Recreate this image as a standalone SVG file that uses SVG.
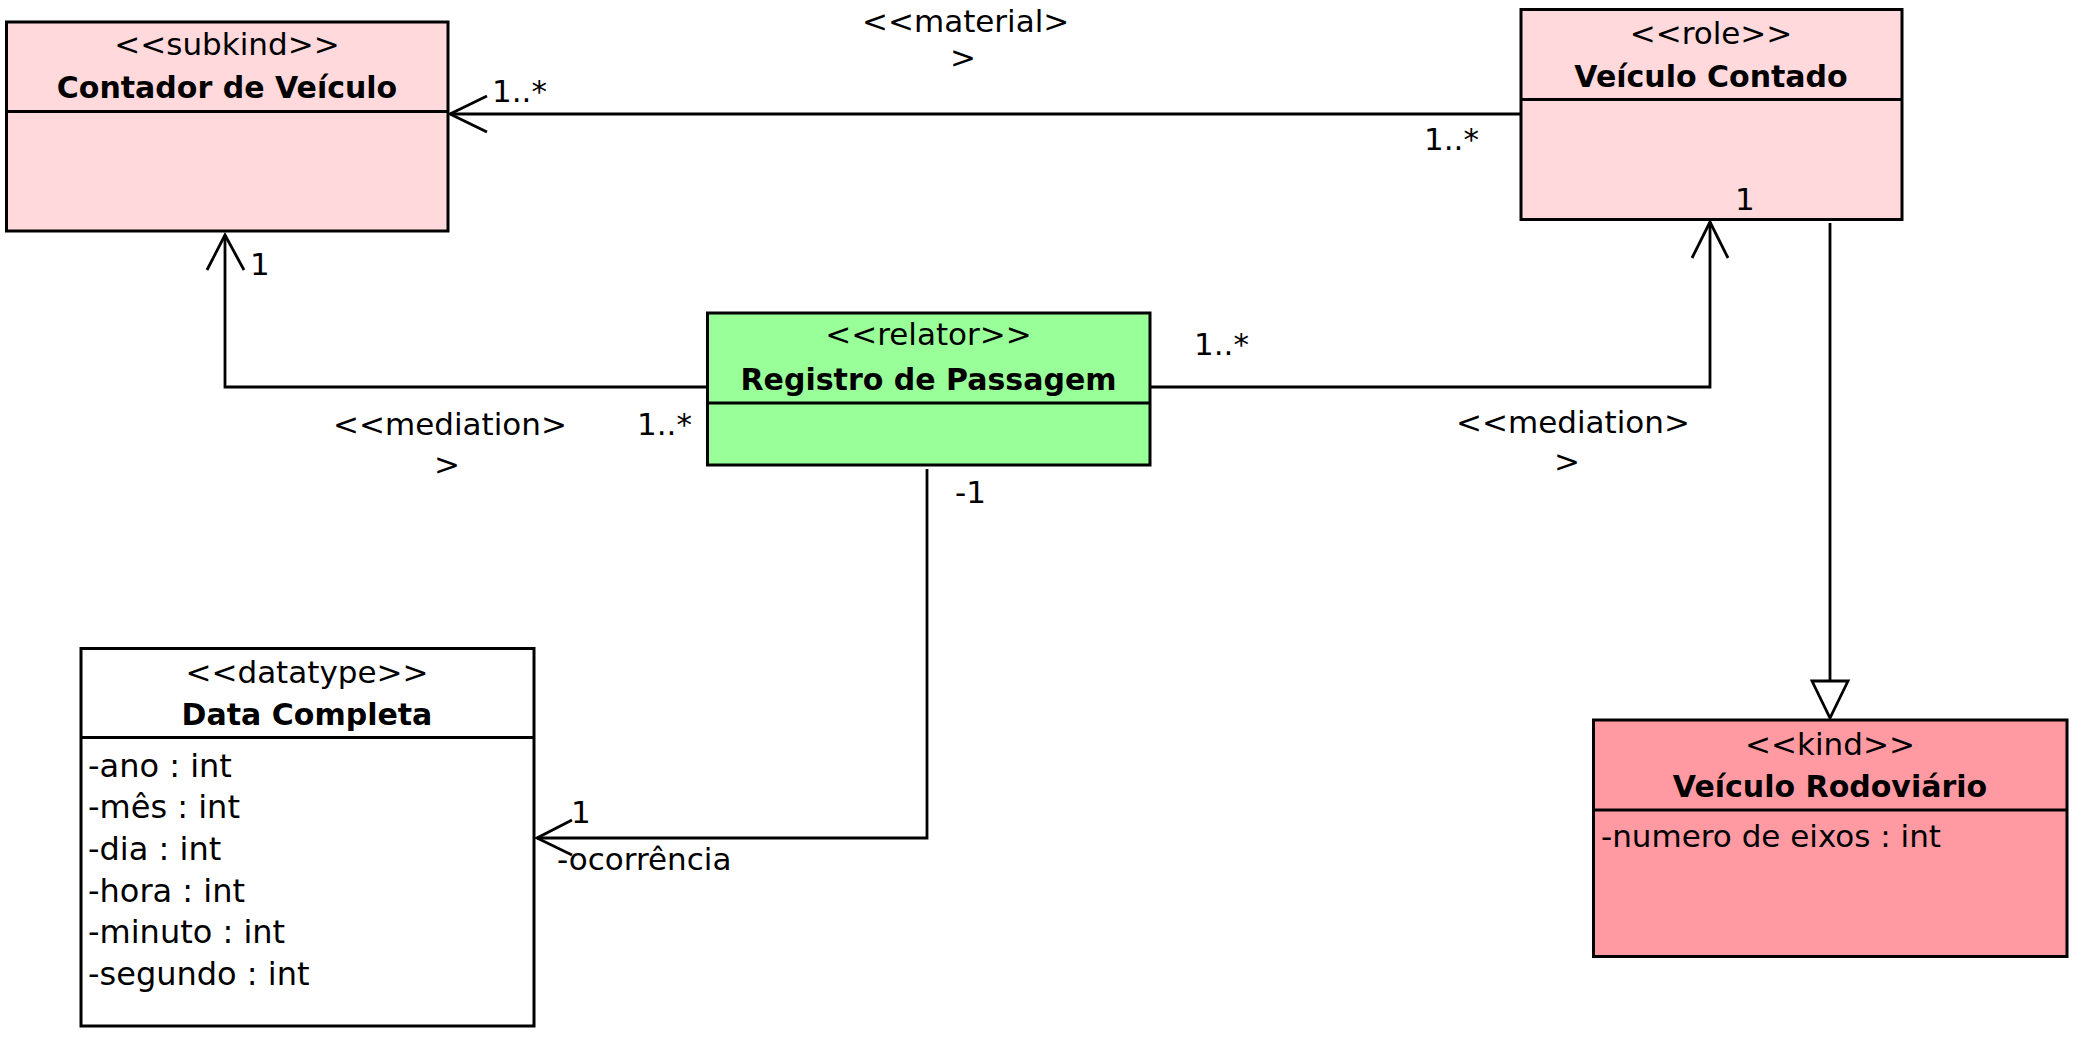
<svg xmlns="http://www.w3.org/2000/svg" width="2079" height="1038" viewBox="0 0 2079 1038">
<style>
.box{stroke:#000;stroke-width:3}
.div{stroke:#000;stroke-width:3}
.ln{fill:none;stroke:#000;stroke-width:2.8}
text{font-family:"DejaVu Sans","Liberation Sans",sans-serif;font-size:31px;fill:#000}
.b{font-weight:bold;font-size:30px}
.c{text-anchor:middle}
.attr{font-size:32px}
.pink{fill:#FFD9DC}
.red{fill:#FF9AA3}
.green{fill:#99FF99}
.white{fill:#FFFFFF}
</style>
<rect width="2079" height="1038" fill="#fff"/>
<g id="contador">
<rect class="box pink" x="6.5" y="22" width="441.5" height="209"/>
<line class="div" x1="6.5" y1="111.5" x2="448" y2="111.5"/>
<text class="c" x="227" y="55">&lt;&lt;subkind&gt;&gt;</text>
<text class="b c" x="227" y="98">Contador de Veículo</text>
</g>
<g id="veiculo-contado">
<rect class="box pink" x="1521" y="9.5" width="381" height="210"/>
<line class="div" x1="1521" y1="99.5" x2="1902" y2="99.5"/>
<text class="c" x="1711" y="44">&lt;&lt;role&gt;&gt;</text>
<text class="b c" x="1711" y="87">Veículo Contado</text>
</g>
<g id="registro">
<rect class="box green" x="707.5" y="313" width="442.5" height="152"/>
<line class="div" x1="707.5" y1="403" x2="1150" y2="403"/>
<text class="c" x="928.5" y="345">&lt;&lt;relator&gt;&gt;</text>
<text class="b c" x="928.5" y="390">Registro de Passagem</text>
</g>
<g id="data-completa">
<rect class="box white" x="81" y="648.5" width="453" height="377.5"/>
<line class="div" x1="81" y1="737.5" x2="534" y2="737.5"/>
<text class="c" x="307" y="683">&lt;&lt;datatype&gt;&gt;</text>
<text class="b c" x="307" y="725">Data Completa</text>
<text class="attr" x="88" y="777">-ano : int</text>
<text class="attr" x="88" y="818">-mês : int</text>
<text class="attr" x="88" y="860">-dia : int</text>
<text class="attr" x="88" y="902">-hora : int</text>
<text class="attr" x="88" y="943">-minuto : int</text>
<text class="attr" x="88" y="985">-segundo : int</text>
</g>
<g id="veiculo-rodoviario">
<rect class="box red" x="1593.5" y="720" width="473.5" height="236.5"/>
<line class="div" x1="1593.5" y1="810" x2="2067" y2="810"/>
<text class="c" x="1830" y="755">&lt;&lt;kind&gt;&gt;</text>
<text class="b c" x="1830" y="797">Veículo Rodoviário</text>
<text x="1601" y="847">-numero de eixos : int</text>
</g>
<g id="connectors">
<polyline class="ln" points="1521,114 450,114"/>
<polyline class="ln" points="487,96 450,114 487,132"/>
<text x="492" y="102">1..*</text>
<text x="862" y="32">&lt;&lt;material&gt;</text>
<text class="c" x="963" y="68">&gt;</text>
<text x="1424" y="150">1..*</text>
<polyline class="ln" points="707,387 225,387 225,235"/>
<polyline class="ln" points="207,270 225,235 244,270"/>
<text x="250" y="275">1</text>
<text x="333" y="435">&lt;&lt;mediation&gt;</text>
<text class="c" x="447" y="475">&gt;</text>
<text x="637" y="435">1..*</text>
<polyline class="ln" points="1150,387 1710,387 1710,222"/>
<polyline class="ln" points="1692,258 1710,222 1728,258"/>
<text x="1194" y="355">1..*</text>
<text x="1456" y="433">&lt;&lt;mediation&gt;</text>
<text class="c" x="1567" y="472">&gt;</text>
<text x="1735" y="210">1</text>
<polyline class="ln" points="927,469 927,838 537,838"/>
<polyline class="ln" points="572,820 537,838 572,855"/>
<text x="955" y="503">-1</text>
<text x="571" y="823">1</text>
<text x="557" y="870">-ocorrência</text>
<line class="ln" x1="1830" y1="223" x2="1830" y2="681"/>
<polygon points="1812,681 1848,681 1830,718" fill="#fff" stroke="#000" stroke-width="2.8" stroke-linejoin="miter"/>
</g>
</svg>
